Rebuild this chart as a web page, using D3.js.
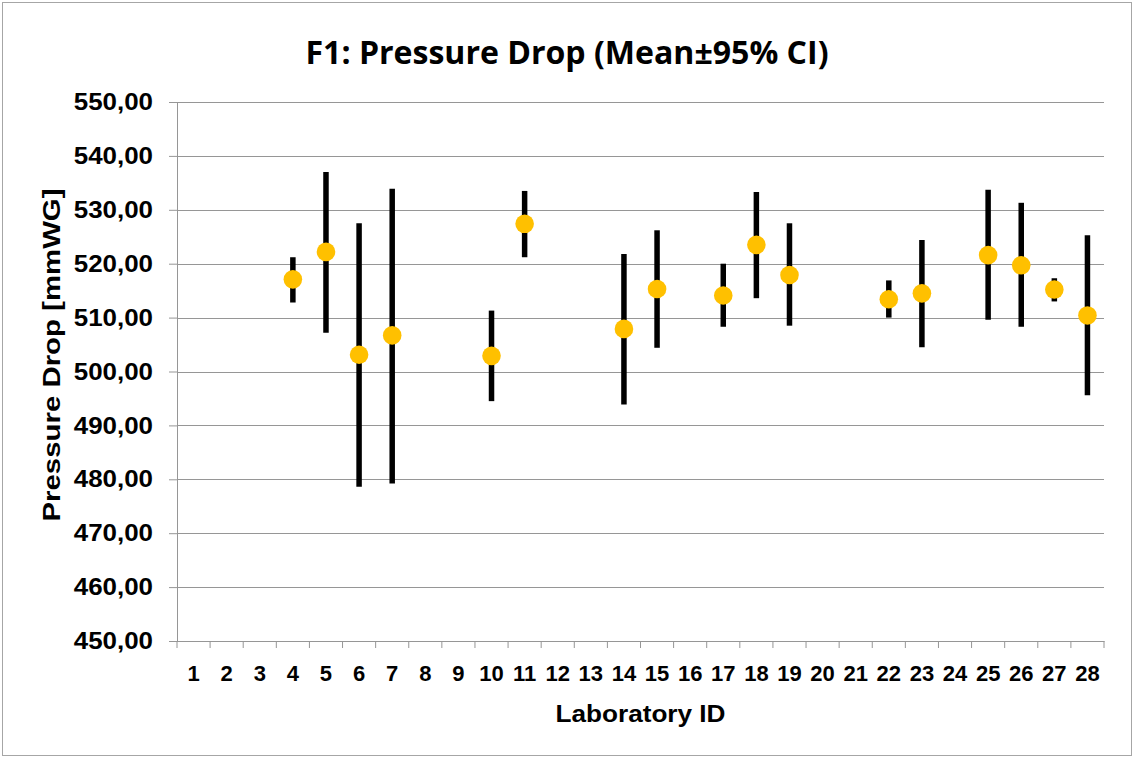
<!DOCTYPE html>
<html>
<head>
<meta charset="utf-8">
<script src="https://d3js.org/d3.v7.min.js"></script>
<style>
  body { margin: 0; background: #fff; }
  text { font-family: "Liberation Sans", Arial, sans-serif; font-weight: bold; fill: #000; }
</style>
</head>
<body>
<svg id="chart" width="1134" height="758"></svg>
<script>

// lab ids on the x axis (all 28 shown, only some have data)
var labIds = d3.range(1, 29).map(String)

// labs with results, mean and 95% CI bounds
var labs  = ["4", "5", "6", "7", "10", "11", "14", "15", "17", "18", "19", "22", "23", "25", "26", "27", "28"]
var means = [517.1, 522.2, 503.1, 506.7, 502.9, 527.4, 507.9, 515.3, 514.1, 523.5, 517.9, 513.4, 514.5, 521.6, 519.7, 515.2, 510.4]
var upper = [521.2, 537.0, 527.5, 533.9, 511.3, 533.5, 521.8, 526.2, 520.0, 533.3, 527.5, 516.9, 524.4, 533.7, 531.3, 517.3, 525.3]
var lower = [512.8, 507.2, 478.6, 479.2, 494.5, 521.2, 493.9, 504.4, 508.3, 513.6, 508.5, 510.0, 504.5, 509.6, 508.3, 513.0, 495.6]

var yTicks = d3.range(450, 551, 10)

var svg = d3.select("#chart")
var margin = {left: 177, right: 30, top: 102, bottom: 117}
var width = 1134 - margin.left - margin.right
var height = 758 - margin.top - margin.bottom

// the original text is a bit wider than plain Arial, stretch it slightly
function widen(sel, k) {
  sel.each(function() {
    var len = this.getComputedTextLength()
    d3.select(this).attr("textLength", len * k).attr("lengthAdjust", "spacingAndGlyphs")
  })
}

// outer chart border
svg.append("rect")
  .attr("x", 2.5).attr("y", 2.5)
  .attr("width", 1129).attr("height", 753)
  .attr("fill", "none")
  .attr("stroke", "#a6a6a6")
  .attr("stroke-width", 1)

var g = svg.append("g")
  .attr("transform", "translate(" + margin.left + "," + margin.top + ")")

var x = d3.scaleBand().domain(labIds).range([0, width])
var y = d3.scaleLinear().domain([450, 550]).range([height, 0])

// horizontal gridlines
g.selectAll(".grid")
  .data(yTicks)
  .enter()
  .append("line")
    .attr("x1", 0).attr("x2", width)
    .attr("y1", function(d) { return Math.round(y(d)) + 0.5 })
    .attr("y2", function(d) { return Math.round(y(d)) + 0.5 })
    .attr("stroke", "#969696")
    .attr("stroke-width", 1.2)

// y axis
var yAxis = g.append("g")
  .call(d3.axisLeft(y).tickValues(yTicks).tickSize(8).tickPadding(16)
    .tickFormat(function(d) { return d3.format(".2f")(d).replace(".", ",") }))
yAxis.selectAll("text").style("font-size", "24px").call(widen, 1.08)
yAxis.selectAll("line,path").attr("stroke", "#969696")

// x axis, ticks sit between categories
var xAxis = g.append("g")
  .attr("transform", "translate(0," + height + ")")
  .call(d3.axisBottom(x).tickSize(0).tickPadding(24))
xAxis.select(".domain").attr("stroke", "#969696")
xAxis.selectAll("text").style("font-size", "22px")
g.append("g")
  .selectAll("line")
  .data(d3.range(0, 29))
  .enter()
  .append("line")
    .attr("x1", function(d) { return d * x.bandwidth() })
    .attr("x2", function(d) { return d * x.bandwidth() })
    .attr("y1", height).attr("y2", height + 7)
    .attr("stroke", "#969696")

var rows = labs.map(function(id, i) {
  return {id: id, mean: means[i], hi: upper[i], lo: lower[i]}
})

// error bars
g.selectAll(".err")
  .data(rows)
  .enter()
  .append("line")
    .attr("x1", function(d) { return x(d.id) + x.bandwidth() / 2 })
    .attr("x2", function(d) { return x(d.id) + x.bandwidth() / 2 })
    .attr("y1", function(d) { return y(d.hi) })
    .attr("y2", function(d) { return y(d.lo) })
    .attr("stroke", "#000")
    .attr("stroke-width", 5.5)

// mean markers
g.selectAll(".dot")
  .data(rows)
  .enter()
  .append("circle")
    .attr("cx", function(d) { return x(d.id) + x.bandwidth() / 2 })
    .attr("cy", function(d) { return y(d.mean) })
    .attr("r", 9.3)
    .attr("fill", "#ffc000")

// title
svg.append("text")
  .attr("x", 567).attr("y", 64)
  .attr("text-anchor", "middle")
  .style("font-family", "'Open Sans', sans-serif")
  .style("font-size", "32px")
  .attr("textLength", 523)
  .attr("lengthAdjust", "spacingAndGlyphs")
  .text("F1: Pressure Drop (Mean\u00b195% CI)")

// axis titles
svg.append("text")
  .attr("x", margin.left + width / 2).attr("y", 722)
  .attr("text-anchor", "middle")
  .style("font-size", "24px")
  .attr("textLength", 170)
  .attr("lengthAdjust", "spacingAndGlyphs")
  .text("Laboratory ID")

svg.append("text")
  .attr("transform", "translate(60,355) rotate(-90)")
  .attr("text-anchor", "middle")
  .style("font-size", "24px")
  .attr("textLength", 333)
  .attr("lengthAdjust", "spacingAndGlyphs")
  .text("Pressure Drop [mmWG]")

</script>
</body>
</html>
